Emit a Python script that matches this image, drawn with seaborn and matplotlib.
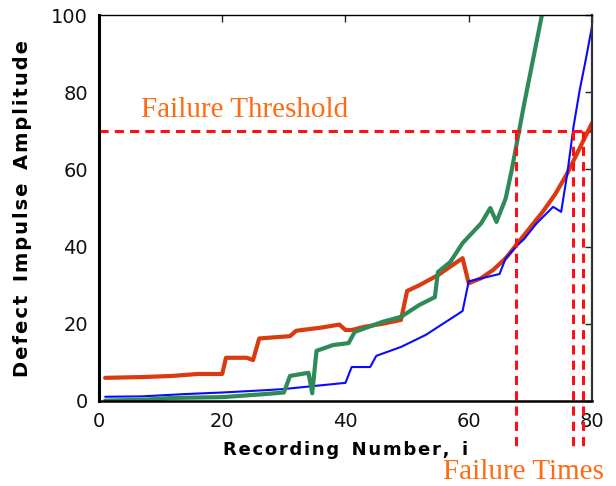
import matplotlib
matplotlib.use("Agg")
import matplotlib.pyplot as plt
import seaborn as sns
import pandas as pd

# --- data ---
red_x = [1, 7, 12, 16, 20, 20.6, 24, 25, 26, 31, 32, 36, 39, 40, 41, 43, 46, 49, 50, 52, 55, 59, 60, 62, 64, 66, 68, 70, 72, 74, 76, 78, 80]
red_y = [6.0, 6.2, 6.5, 7.0, 7.0, 11.2, 11.2, 10.6, 16.2, 16.8, 18.2, 19.0, 19.8, 18.4, 18.4, 19.2, 20.0, 21.0, 28.5, 30.0, 32.6, 37.0, 30.5, 31.8, 34.0, 37.0, 41.0, 45.0, 49.0, 53.5, 59.0, 65.5, 72.0]

blue_x = [1, 7, 14, 20, 27, 30, 35, 40, 41, 44, 45, 49, 53, 59, 60, 65, 66, 68, 69, 71, 73.7, 75, 76, 77, 78, 79, 80]
blue_y = [1.1, 1.2, 1.8, 2.2, 2.8, 3.1, 3.9, 4.7, 8.8, 8.8, 11.7, 14.0, 17.1, 23.3, 31.0, 32.9, 37.0, 40.5, 42.0, 46.0, 50.3, 49.0, 59.0, 71.0, 80.5, 88.5, 97.0]

green_x = [1, 7, 12, 20, 27, 30, 31, 34, 34.6, 35.3, 38, 40.5, 41.5, 46, 49, 52, 54.5, 55, 57, 59, 62, 63.5, 64.5, 66, 67, 68, 69, 70, 71, 72, 73]
green_y = [0.1, 0.3, 0.8, 1.0, 1.8, 2.2, 6.5, 7.3, 2.0, 13.0, 14.5, 15.0, 17.9, 20.5, 21.8, 24.9, 26.9, 33.4, 36.0, 40.9, 46.0, 50.0, 46.4, 52.5, 60.0, 68.5, 77.0, 85.0, 93.0, 101.0, 110.0]

threshold = 70
failure_times = [67.7, 76.9, 78.5]

x_ticks = [0, 20, 40, 60, 80]
y_ticks = [0, 20, 40, 60, 80, 100]

x_label = "Recording Number, i"
y_label = "Defect Impulse Amplitude"


def spaced(s):
    # letter spacing like the original MATLAB label
    return "\u200a".join(s).replace("\u200a \u200a", "  ")


sns.set_style("white")
serif = ["Liberation Serif", "DejaVu Serif"]

fig = plt.figure(figsize=(6.16, 4.86), dpi=100)
ax = fig.add_axes([0.1607, 0.1749, 0.8003, 0.7942])

# --- curves ---
for xs, ys, col, lw in [(red_x, red_y, "#d93a10", 3.0),
                        (blue_x, blue_y, "#0a0aff", 1.5),
                        (green_x, green_y, "#2e8b57", 3.0)]:
    df = pd.DataFrame({"x": xs, "y": ys})
    sns.lineplot(data=df, x="x", y="y", ax=ax, color=col, linewidth=lw,
                 sort=False, estimator=None)

# --- threshold and failure times ---
dash = (0, (3, 2))
ax.plot([0, 80], [threshold, threshold], color="#ff1010", lw=2.2, linestyle=dash)
for ft in failure_times:
    ax.plot([ft, ft], [threshold, -12.5], color="#ff1010", lw=2.2,
            linestyle=dash, clip_on=False)

ax.text(6.8, 73.6, "Failure Threshold", color="#ff6a13", fontsize=21,
        family=serif, ha="left", va="baseline")
ax.text(55.8, -20.3, "Failure Times", color="#ff6a13", fontsize=21,
        family=serif, ha="left", va="baseline", clip_on=False)

ax.set_xlim(0, 80)
ax.set_ylim(0, 100)
ax.set_xticks(x_ticks)
ax.set_yticks(y_ticks)
ax.tick_params(direction="in", top=True, right=True, length=5, width=1,
               labelsize=14, pad=8, labelcolor="#111111", color="#222222")

ax.set_xlabel(spaced(x_label), fontsize=13, fontweight="bold",
              color="black", labelpad=7)
ax.set_ylabel(spaced(y_label), fontsize=14, fontweight="bold",
              color="black", labelpad=14)

ax.spines["left"].set_linewidth(2.2)
ax.spines["bottom"].set_linewidth(1.8)
ax.spines["top"].set_linewidth(1.0)
ax.spines["right"].set_linewidth(1.6)
ax.spines["right"].set_color("#333333")
for s in ax.spines.values():
    s.set_visible(True)
    if s is not ax.spines["right"]:
        s.set_color("black")

fig.savefig("out.png", dpi=100)
